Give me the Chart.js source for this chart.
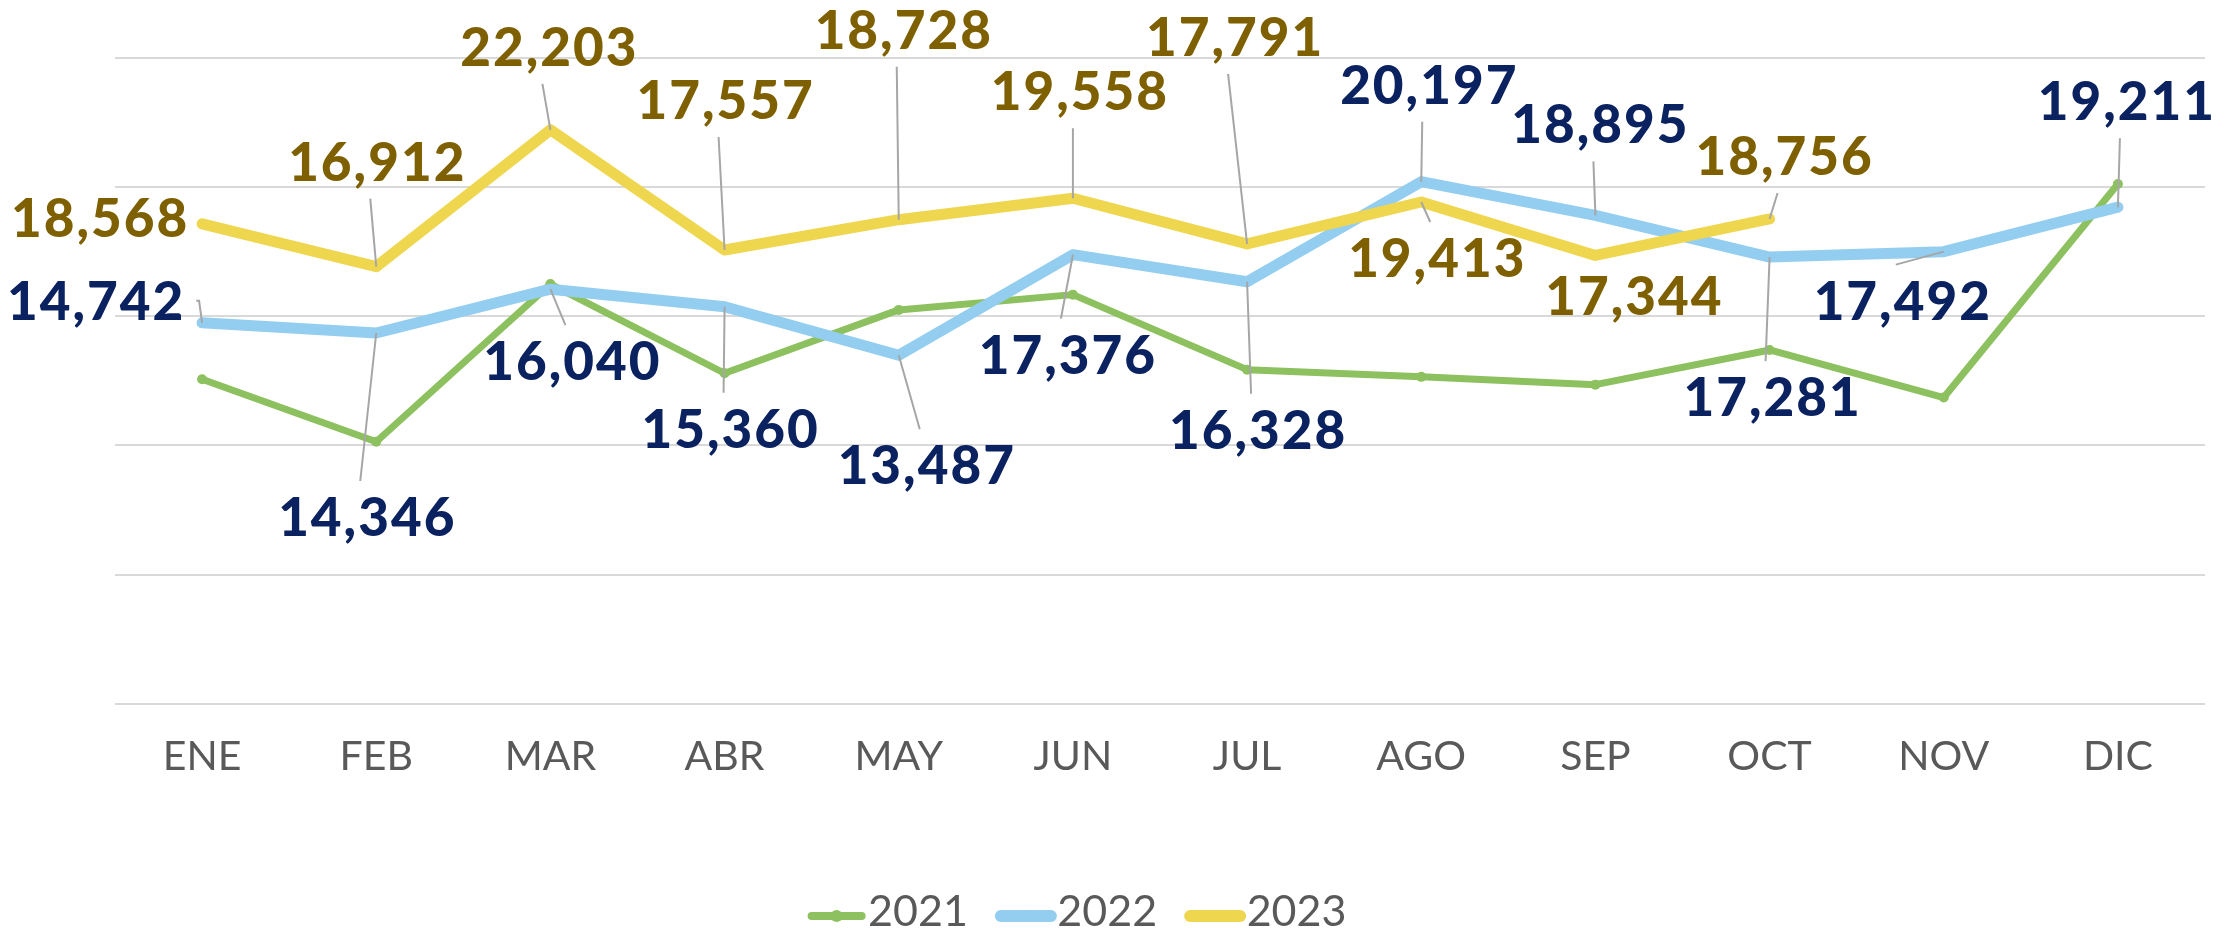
<!DOCTYPE html>
<html>
<head>
<meta charset="utf-8">
<title>Ventas mensuales 2021-2023</title>
<script src="https://cdn.jsdelivr.net/npm/chart.js@4.4.1/dist/chart.umd.min.js"></script>
<style>
  html, body { margin: 0; padding: 0; background: #ffffff; }
  #wrap { width: 2228px; height: 928px; }
</style>
</head>
<body>
<div id="wrap"><canvas id="ventasChart" width="2228" height="928"></canvas></div>
<script>
const meses = ["ENE", "FEB", "MAR", "ABR", "MAY", "JUN", "JUL", "AGO", "SEP", "OCT", "NOV", "DIC"];
const anios = ["2021", "2022", "2023"];

// 2021 has no labels in the picture
const ventas2021 = [12560, 10140, 16240, 12790, 15240, 15830, 12930, 12650, 12350, 13690, 11850, 20110];
const ventas2022 = [14742, 14346, 16040, 15360, 13487, 17376, 16328, 20197, 18895, 17281, 17492, 19211];
const ventas2023 = [18568, 16912, 22203, 17557, 18728, 19558, 17791, 19413, 17344, 18756];

const ejeMin = 0;
const ejeMax = 25000;
const ejePaso = 5000;

// where each data label sits, relative to its point (px), and the leader style
const etiquetas2022 = [
    [-107, -22, "elbow"], [-10, 184, "v"], [21, 72, "v"], [5, 122, "v"],
    [27, 110, "v"], [-6, 100, "v"], [10, 148, "v"], [7, -97, "v"],
    [4, -91, "v"], [2, 140, "v"], [-42, 49, "v"], [8, -106, "v"]
];
const etiquetas2023 = [
    [-103, -6, "none"], [0, -105, "v"], [-2, -83, "v"], [0, -150, "v"],
    [4, -190, "v"], [6, -107, "v"], [-13, -207, "v"], [15, 56, "v"],
    [38, 41, "none"], [14, -63, "v"]
];

const verde = "#8DC15F";
const celeste = "#93CDEF";
const amarillo = "#EFD64F";

const etiquetasPlugin = {
    id: "etiquetas",
    afterLayout(chart) {
        // legend sits a bit left of centre in the original
        chart.legend.left -= 26;
        chart.legend.right -= 26;
    },
    afterDatasetsDraw(chart) {
        const ctx = chart.ctx;
        const grupos = [
            { idx: 1, pos: etiquetas2022, color: "#0B2260" },
            { idx: 2, pos: etiquetas2023, color: "#7F6000" }
        ];
        ctx.save();
        ctx.font = "900 53px Lato";
        ctx.letterSpacing = "2px";
        ctx.textAlign = "center";
        ctx.textBaseline = "alphabetic";
        grupos.forEach(g => {
            const meta = chart.getDatasetMeta(g.idx);
            const valores = chart.data.datasets[g.idx].data;
            meta.data.forEach((pt, i) => {
                const [dx, dy, guia] = g.pos[i];
                const cx = pt.x + dx;
                const cy = pt.y + dy;
                const texto = valores[i].toLocaleString("en-US");
                ctx.strokeStyle = "#A6A6A6";
                ctx.lineWidth = 2;
                if (guia === "v") {
                    const sy = dy < 0 ? cy + 37 : cy - 36;
                    ctx.beginPath();
                    ctx.moveTo(cx - 6, sy);
                    ctx.lineTo(pt.x, pt.y);
                    ctx.stroke();
                } else if (guia === "elbow") {
                    const w = ctx.measureText(texto).width;
                    ctx.beginPath();
                    ctx.moveTo(cx + w / 2 + 12, cy);
                    ctx.lineTo(pt.x - 3, cy);
                    ctx.lineTo(pt.x, pt.y);
                    ctx.stroke();
                }
                ctx.fillStyle = g.color;
                ctx.fillText(texto, cx + 1, cy + 19);
            });
        });
        ctx.restore();
    },
    afterDraw(chart) {
        // legend: short thick line with a marker, like the series
        const ctx = chart.ctx;
        const boxes = chart.legend.legendHitBoxes || [];
        ctx.save();
        boxes.forEach((b, i) => {
            const ds = chart.data.datasets[chart.legend.legendItems[i].datasetIndex];
            const y = b.top + b.height / 2 + 4;
            ctx.strokeStyle = ds.borderColor;
            ctx.lineWidth = ds.borderWidth + 1;
            ctx.lineCap = "round";
            ctx.beginPath();
            ctx.moveTo(b.left + 5, y);
            ctx.lineTo(b.left + 55, y);
            ctx.stroke();
            ctx.fillStyle = ds.borderColor;
            ctx.beginPath();
            ctx.arc(b.left + 30, y, 6, 0, Math.PI * 2);
            ctx.fill();
        });
        ctx.restore();
    }
};

const serie = (label, data, color, ancho, orden) => ({
    label: label,
    data: data,
    borderColor: color,
    backgroundColor: color,
    borderWidth: ancho,
    borderCapStyle: "round",
    borderJoinStyle: "round",
    pointRadius: 5,
    pointBackgroundColor: color,
    pointBorderWidth: 0,
    tension: 0,
    order: orden
});

new Chart(document.getElementById("ventasChart").getContext("2d"), {
    type: "line",
    data: {
        labels: meses,
        datasets: [
            serie(anios[0], ventas2021, verde, 7, 3),
            serie(anios[1], ventas2022, celeste, 11, 2),
            serie(anios[2], ventas2023, amarillo, 11, 1)
        ]
    },
    options: {
        responsive: false,
        animation: false,
        layout: { padding: { top: 57.5, left: 0, right: 23, bottom: 0 } },
        scales: {
            x: {
                offset: true,
                grid: { display: false, drawTicks: false },
                border: { display: false },
                ticks: {
                    color: "#595959",
                    font: { family: "Lato", size: 41 },
                    padding: 28,
                    maxRotation: 0
                },
                afterFit: scale => { scale.height = 158.5; }
            },
            y: {
                min: ejeMin,
                max: ejeMax,
                ticks: { display: false, stepSize: ejePaso },
                grid: { color: "#D9D9D9", lineWidth: 2, drawTicks: false },
                border: { display: false },
                afterFit: scale => { scale.width = 115; }
            }
        },
        plugins: {
            tooltip: { enabled: false },
            legend: {
                position: "bottom",
                maxHeight: 65.5,
                labels: {
                    color: "#595959",
                    font: { family: "Lato", size: 43 },
                    usePointStyle: true,
                    pointStyle: "line",
                    pointStyleWidth: 40,
                    padding: 28,
                    sort: (a, b) => a.datasetIndex - b.datasetIndex
                }
            }
        }
    },
    plugins: [etiquetasPlugin]
});
</script>
</body>
</html>
